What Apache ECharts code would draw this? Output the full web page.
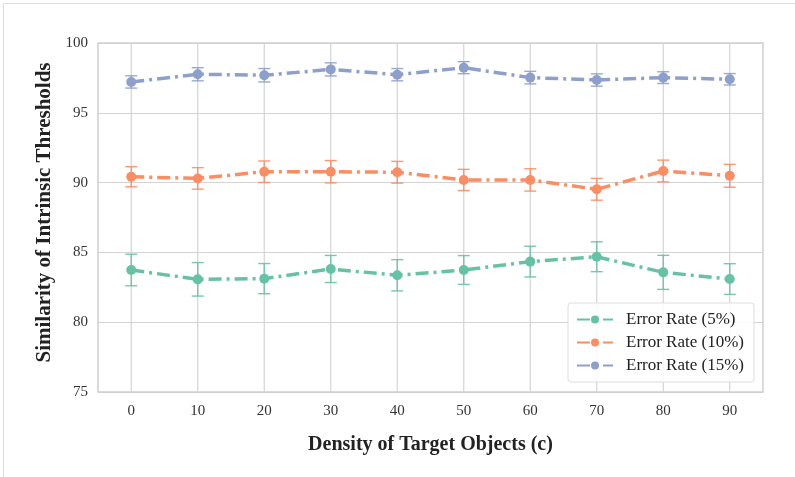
<!DOCTYPE html>
<html>
<head>
<meta charset="utf-8">
<script src="https://cdn.jsdelivr.net/npm/echarts@6/dist/echarts.min.js"></script>
<style>
  html, body { margin: 0; padding: 0; background: #fff; }
  #chart { width: 795px; height: 477px; }
</style>
</head>
<body>
<div id="chart"></div>
<script>
// Density values on the x axis
const densities = ['0', '10', '20', '30', '40', '50', '60', '70', '80', '90'];
const yTicks = [75, 80, 85, 90, 95, 100];

// Mean similarity for each error rate
const rate5 = [83.74, 83.07, 83.12, 83.81, 83.36, 83.74, 84.34, 84.69, 83.57, 83.09];
const rate10 = [90.42, 90.30, 90.78, 90.78, 90.74, 90.19, 90.19, 89.52, 90.83, 90.49];
const rate15 = [97.21, 97.76, 97.69, 98.11, 97.73, 98.23, 97.52, 97.35, 97.52, 97.40];

// Half-width of the error bars
const err5 = [1.13, 1.20, 1.08, 0.97, 1.12, 1.03, 1.10, 1.07, 1.22, 1.10];
const err10 = [0.72, 0.77, 0.77, 0.80, 0.78, 0.76, 0.80, 0.78, 0.78, 0.82];
const err15 = [0.44, 0.47, 0.48, 0.47, 0.44, 0.43, 0.45, 0.44, 0.42, 0.41];

const seriesNames = ['Error Rate (5%)', 'Error Rate (10%)', 'Error Rate (15%)'];
const colors = ['#66c2a5', '#fc8d62', '#8da0cb'];

const FONT = '"Liberation Serif", "Times New Roman", serif';
const GRID_COLOR = '#d4d4d4';
const chart = echarts.init(document.getElementById('chart'), null, { renderer: 'canvas' });

// vertical grid lines through each category position
function categoryGridSeries() {
  return {
    type: 'custom',
    silent: true,
    z: 1,
    data: densities.map((d, i) => [i, 75]),
    encode: { x: 0, y: 1 },
    renderItem: function (params, api) {
      const cs = params.coordSys;
      const p = api.coord([api.value(0), 75]);
      return {
        type: 'line',
        shape: { x1: p[0], y1: cs.y, x2: p[0], y2: cs.y + cs.height },
        style: { stroke: GRID_COLOR, lineWidth: 1.2 }
      };
    }
  };
}

function errorSeries(means, errs, color) {
  const data = means.map((m, i) => [i, m - errs[i], m + errs[i]]);
  return {
    type: 'custom',
    silent: true,
    z: 3,
    data: data,
    encode: { x: 0, y: [1, 2] },
    renderItem: function (params, api) {
      const x = api.value(0);
      const lo = api.coord([x, api.value(1)]);
      const hi = api.coord([x, api.value(2)]);
      const hw = 6;
      const style = { stroke: color, lineWidth: 1.4, opacity: 0.9 };
      return {
        type: 'group',
        children: [
          { type: 'line', shape: { x1: lo[0], y1: lo[1], x2: hi[0], y2: hi[1] }, style: style },
          { type: 'line', shape: { x1: lo[0] - hw, y1: lo[1], x2: lo[0] + hw, y2: lo[1] }, style: style },
          { type: 'line', shape: { x1: hi[0] - hw, y1: hi[1], x2: hi[0] + hw, y2: hi[1] }, style: style }
        ]
      };
    }
  };
}

function lineSeries(name, means, color) {
  return {
    name: name,
    type: 'line',
    data: means,
    z: 4,
    symbol: 'circle',
    symbolSize: 10,
    itemStyle: { color: color },
    lineStyle: { color: color, width: 3.5, type: [13, 5, 3, 5] }
  };
}

const option = {
  backgroundColor: '#fff',
  animation: false,
  color: colors,
  grid: { left: 98, right: 32, top: 43, bottom: 85 },
  graphic: [
    { type: 'line', shape: { x1: 3.5, y1: 3.5, x2: 795, y2: 3.5 }, style: { stroke: '#dcdcdc', lineWidth: 1 } },
    { type: 'line', shape: { x1: 3.5, y1: 3.5, x2: 3.5, y2: 477 }, style: { stroke: '#dcdcdc', lineWidth: 1 } },
    {
      type: 'rect',
      shape: { x: 98, y: 43, width: 795 - 98 - 32, height: 477 - 43 - 85 },
      style: { fill: 'none', stroke: '#cfcfcf', lineWidth: 1.5 },
      z: 1
    }
  ],
  legend: {
    data: seriesNames,
    orient: 'vertical',
    left: 568,
    top: 303,
    itemWidth: 36,
    itemHeight: 10,
    itemGap: 6,
    padding: [8, 10, 8, 8],
    backgroundColor: 'rgba(255,255,255,0.85)',
    borderColor: '#dddddd',
    borderWidth: 1,
    borderRadius: 3,
    textStyle: { fontFamily: FONT, fontSize: 17, color: '#222', padding: [0, 0, 0, 8] }
  },
  xAxis: {
    type: 'category',
    data: densities,
    boundaryGap: true,
    name: 'Density of Target Objects (c)',
    nameLocation: 'middle',
    nameGap: 43,
    nameTextStyle: { fontFamily: FONT, fontSize: 20, fontWeight: 'bold', color: '#222' },
    axisLine: { show: false },
    axisTick: { show: false },
    axisLabel: { fontFamily: FONT, fontSize: 15, color: '#333', margin: 12 },
    splitLine: { show: false }
  },
  yAxis: {
    type: 'value',
    min: 75,
    max: 100,
    interval: 5,
    name: 'Similarity of Intrinsic Thresholds',
    nameLocation: 'middle',
    nameGap: 42,
    nameTextStyle: { fontFamily: FONT, fontSize: 21, fontWeight: 'bold', color: '#222', padding: [0, 0, 0, 10] },
    axisLine: { show: false },
    axisTick: { show: false },
    axisLabel: {
      fontFamily: FONT, fontSize: 15, color: '#333', margin: 10,
      formatter: v => (yTicks.indexOf(v) >= 0 ? String(v) : '')
    },
    splitLine: { show: true, lineStyle: { color: GRID_COLOR, width: 1.2 } }
  },
  series: [
    categoryGridSeries(),
    errorSeries(rate5, err5, colors[0]),
    errorSeries(rate10, err10, colors[1]),
    errorSeries(rate15, err15, colors[2]),
    lineSeries(seriesNames[0], rate5, colors[0]),
    lineSeries(seriesNames[1], rate10, colors[1]),
    lineSeries(seriesNames[2], rate15, colors[2])
  ]
};

chart.setOption(option);
</script>
</body>
</html>
